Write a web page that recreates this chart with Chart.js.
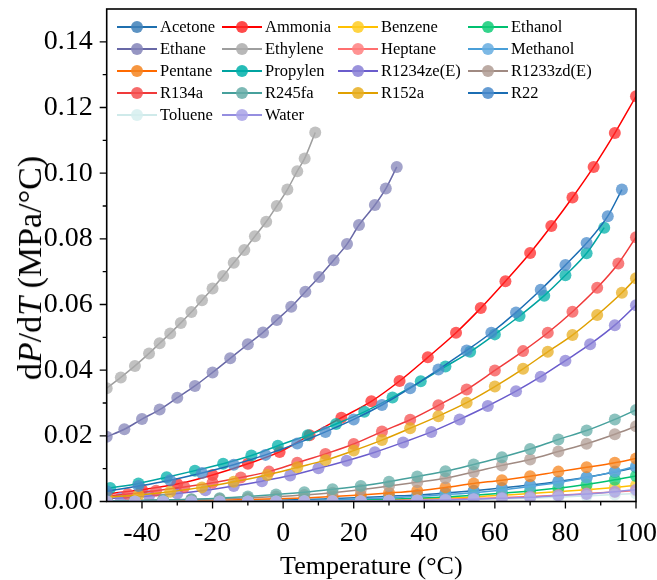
<!DOCTYPE html>
<html>
<head>
<meta charset="utf-8">
<script src="https://cdn.jsdelivr.net/npm/chart.js@4.4.1/dist/chart.umd.min.js"></script>
<style>
  body { margin: 0; background: #fff; }
  #wrap { position: relative; width: 657px; height: 580px; font-family: "Liberation Serif", "Times New Roman", serif; }
  #ytitle { position: absolute; left: 30px; top: 268px; transform: translate(-50%, -50%) rotate(-90deg); white-space: nowrap; font-size: 34px; line-height: 1; color: #000; }
  .lg { position: absolute; height: 20px; display: flex; align-items: center; font-size: 16.5px; color: #000; white-space: nowrap; }
  .lg .sym { position: relative; width: 40px; height: 20px; margin-right: 3px; }
  .lg .ln { position: absolute; left: 0; right: 0; top: 9px; height: 2px; }
  .lg .dot { position: absolute; left: 14px; top: 4px; width: 12px; height: 12px; border-radius: 50%; }
</style>
</head>
<body>
<div id="wrap">
  <canvas id="chart" width="657" height="580"></canvas>
  <div id="ytitle">d<i>P</i>/d<i>T</i> (MPa/°C)</div>
  <div id="legend"></div>
</div>
<script>
// 温度网格（大多数工质共用）
const tGrid = [-50, -42, -34, -26, -18, -10, -2, 6, 14, 22, 30, 38, 46, 54, 62, 70, 78, 86, 94, 100];

const acetone  = [0.0000, 0.0000, 0.0001, 0.0001, 0.0002, 0.0003, 0.0004, 0.0006, 0.0009, 0.0012, 0.0016, 0.0020, 0.0026, 0.0033, 0.0041, 0.0050, 0.0061, 0.0074, 0.0090, 0.0104];
const benzene  = [0.0000, 0.0000, 0.0000, 0.0000, 0.0001, 0.0001, 0.0001, 0.0002, 0.0003, 0.0004, 0.0006, 0.0008, 0.0011, 0.0014, 0.0019, 0.0024, 0.0030, 0.0036, 0.0043, 0.0049];
const ethanol  = [0.0000, 0.0000, 0.0000, 0.0000, 0.0000, 0.0000, 0.0001, 0.0002, 0.0003, 0.0005, 0.0007, 0.0010, 0.0014, 0.0019, 0.0025, 0.0032, 0.0041, 0.0052, 0.0066, 0.0078];
const heptane  = [0.0000, 0.0000, 0.0000, 0.0000, 0.0000, 0.0000, 0.0001, 0.0001, 0.0001, 0.0002, 0.0003, 0.0005, 0.0007, 0.0009, 0.0012, 0.0015, 0.0019, 0.0024, 0.0029, 0.0033];
const methanol = [0.0000, 0.0000, 0.0000, 0.0001, 0.0001, 0.0001, 0.0002, 0.0003, 0.0005, 0.0008, 0.0011, 0.0015, 0.0021, 0.0027, 0.0035, 0.0046, 0.0058, 0.0073, 0.0091, 0.0108];
const pentane  = [0.0001, 0.0001, 0.0002, 0.0003, 0.0004, 0.0006, 0.0008, 0.0011, 0.0015, 0.0020, 0.0026, 0.0033, 0.0043, 0.0055, 0.0065, 0.0077, 0.0091, 0.0104, 0.0118, 0.0131];
const r1233zd  = [0.0002, 0.0003, 0.0004, 0.0006, 0.0008, 0.0011, 0.0015, 0.0020, 0.0027, 0.0036, 0.0047, 0.0059, 0.0071, 0.0090, 0.0110, 0.0128, 0.0152, 0.0176, 0.0205, 0.0229];
const r245fa   = [0.0002, 0.0003, 0.0005, 0.0007, 0.0010, 0.0015, 0.0021, 0.0028, 0.0037, 0.0047, 0.0060, 0.0076, 0.0092, 0.0113, 0.0135, 0.0160, 0.0189, 0.0216, 0.0250, 0.0279];
const toluene  = [0.0000, 0.0000, 0.0000, 0.0000, 0.0000, 0.0000, 0.0000, 0.0001, 0.0001, 0.0001, 0.0002, 0.0003, 0.0004, 0.0006, 0.0008, 0.0010, 0.0013, 0.0017, 0.0021, 0.0024];
const water    = [0.0000, 0.0000, 0.0000, 0.0000, 0.0000, 0.0000, 0.0000, 0.0001, 0.0001, 0.0001, 0.0002, 0.0003, 0.0005, 0.0007, 0.0010, 0.0013, 0.0018, 0.0023, 0.0030, 0.0036];

// 各自温度点的工质
const ammoniaT = [-50, -40, -30, -20, -10, -1, 7.5, 16.5, 25, 33, 41, 49, 56, 63, 70, 76, 82, 88, 94, 100];
const ammonia  = [0.0023, 0.0036, 0.0053, 0.0081, 0.0115, 0.0151, 0.0202, 0.0255, 0.0305, 0.0367, 0.0439, 0.0514, 0.0589, 0.0671, 0.0757, 0.0839, 0.0926, 0.1019, 0.1122, 0.1234];

const ethaneT = [-50, -45, -40, -35, -30, -25, -20, -15, -10, -5.7, -1.8, 2.3, 6.3, 10.2, 14.3, 18.1, 21.5, 26, 29.1, 32.2];
const ethane  = [0.0197, 0.0220, 0.0251, 0.0280, 0.0316, 0.0352, 0.0393, 0.0436, 0.0479, 0.0515, 0.0553, 0.0593, 0.0639, 0.0684, 0.0735, 0.0784, 0.0842, 0.0903, 0.0953, 0.1019];

const ethyleneT = [-50, -46, -42, -38, -35, -32, -29, -26, -23, -20, -17, -14, -11, -8, -4.8, -1.8, 1.2, 4, 6.1, 9.1];
const ethylene  = [0.0345, 0.0378, 0.0413, 0.0451, 0.0482, 0.0512, 0.0544, 0.0577, 0.0613, 0.0649, 0.0687, 0.0727, 0.0766, 0.0808, 0.0852, 0.0900, 0.0950, 0.1006, 0.1045, 0.1124];

const propylenT = [-49, -41, -33, -25, -17, -9, -1.5, 7, 15, 23, 31, 39, 46, 53, 60, 67, 74, 80, 86, 91];
const propylen  = [0.0041, 0.0055, 0.0074, 0.0094, 0.0115, 0.0140, 0.0170, 0.0202, 0.0236, 0.0273, 0.0317, 0.0366, 0.0411, 0.0456, 0.0509, 0.0565, 0.0627, 0.0689, 0.0756, 0.0834];

const r1234zeT = [-50, -46, -38, -30, -22, -14, -6, 2, 10, 18, 26, 34, 42, 50, 58, 66, 73, 80, 87, 94, 100];
const r1234ze  = [0.0009, 0.0011, 0.0017, 0.0024, 0.0034, 0.0047, 0.0062, 0.0079, 0.0101, 0.0124, 0.0150, 0.0180, 0.0212, 0.0250, 0.0291, 0.0336, 0.0380, 0.0429, 0.0479, 0.0537, 0.0598];

const r134aT = [-50, -44, -36, -28, -20, -12, -4, 4, 12, 20, 28, 36, 44, 52, 60, 68, 75, 82, 89, 95, 100];
const r134a  = [0.0017, 0.0023, 0.0033, 0.0044, 0.0057, 0.0073, 0.0091, 0.0118, 0.0145, 0.0175, 0.0213, 0.0249, 0.0293, 0.0341, 0.0399, 0.0458, 0.0514, 0.0578, 0.0651, 0.0725, 0.0805];

const r152aT = [-50, -41, -32, -23, -14, -4.5, 4, 12, 20, 28, 36, 44, 52, 60, 68, 75, 82, 89, 96, 100];
const r152a  = [0.0013, 0.0020, 0.0030, 0.0043, 0.0060, 0.0081, 0.0104, 0.0126, 0.0155, 0.0187, 0.0223, 0.0260, 0.0301, 0.0350, 0.0404, 0.0456, 0.0507, 0.0568, 0.0636, 0.0680];

const r22T = [-50, -41, -32, -23, -14, -5, 4, 12, 20, 28, 36, 44, 52, 59, 66, 73, 80, 86, 92, 96];
const r22  = [0.0031, 0.0047, 0.0065, 0.0087, 0.0112, 0.0142, 0.0177, 0.0212, 0.0250, 0.0294, 0.0345, 0.0402, 0.0460, 0.0514, 0.0576, 0.0645, 0.0720, 0.0787, 0.0869, 0.0950];

// 刻度
const xMajorTicks = [-40, -20, 0, 20, 40, 60, 80, 100];
const xMinorTicks = [-30, -10, 10, 30, 50, 70, 90];
const yMajorTicks = [0, 0.02, 0.04, 0.06, 0.08, 0.10, 0.12, 0.14];
const yMinorTicks = [0.01, 0.03, 0.05, 0.07, 0.09, 0.11, 0.13];

// 工质列表：名称、温度、数值、线色、点色
const series = [
    ['Acetone', tGrid, acetone, '#1f6fae', '#3f80b8'],
    ['Ammonia', ammoniaT, ammonia, '#ff0000', '#ff2a2a'],
    ['Benzene', tGrid, benzene, '#ffc000', '#ffcc22'],
    ['Ethanol', tGrid, ethanol, '#00c070', '#10cc78'],
    ['Ethane', ethaneT, ethane, '#6868a6', '#8484b8'],
    ['Ethylene', ethyleneT, ethylene, '#9e9e9e', '#acacac'],
    ['Heptane', tGrid, heptane, '#ff6f6f', '#ff8080'],
    ['Methanol', tGrid, methanol, '#4a9fd8', '#66ade0'],
    ['Pentane', tGrid, pentane, '#ff6a00', '#f5841e'],
    ['Propylen', propylenT, propylen, '#00a3a0', '#00b0aa'],
    ['R1234ze(E)', r1234zeT, r1234ze, '#6a5ccc', '#8a80d6'],
    ['R1233zd(E)', tGrid, r1233zd, '#a08a82', '#b09c94'],
    ['R134a', r134aT, r134a, '#f03a3a', '#f55050'],
    ['R245fa', tGrid, r245fa, '#46a09c', '#66ada8'],
    ['R152a', r152aT, r152a, '#e0a000', '#e8ae20'],
    ['R22', r22T, r22, '#1b6db3', '#4a8bcb'],
    ['Toluene', tGrid, toluene, '#cfeaea', '#d6eeee'],
    ['Water', tGrid, water, '#958ee0', '#a8a2e6']
];

function hexToRgba(hex, a) {
    const n = parseInt(hex.slice(1), 16);
    return `rgba(${(n >> 16) & 255},${(n >> 8) & 255},${n & 255},${a})`;
}

const datasets = series.map(([name, ts, vs, line, dot], i) => ({
    label: name,
    data: ts.map((t, k) => ({ x: t, y: vs[k] })),
    borderColor: line,
    borderWidth: 1.5,
    backgroundColor: hexToRgba(dot, 0.75),
    pointBackgroundColor: hexToRgba(dot, 0.75),
    pointBorderWidth: 0,
    pointRadius: 6,
    cubicInterpolationMode: 'monotone',
    order: -i
}));

// 边框和外刻度
const frameTicks = {
    id: 'frameTicks',
    afterDatasetsDraw(chart) {
        const { ctx, chartArea: a, scales: { x, y } } = chart;
        ctx.save();
        ctx.strokeStyle = '#000';
        ctx.lineWidth = 1.6;
        ctx.strokeRect(a.left, a.top, a.right - a.left, a.bottom - a.top);
        ctx.lineWidth = 1.3;
        ctx.beginPath();
        xMajorTicks.forEach(v => { const p = x.getPixelForValue(v); ctx.moveTo(p, a.bottom); ctx.lineTo(p, a.bottom + 7); });
        xMinorTicks.forEach(v => { const p = x.getPixelForValue(v); ctx.moveTo(p, a.bottom); ctx.lineTo(p, a.bottom + 4); });
        yMajorTicks.forEach(v => { const p = y.getPixelForValue(v); ctx.moveTo(a.left, p); ctx.lineTo(a.left - 7, p); });
        yMinorTicks.forEach(v => { const p = y.getPixelForValue(v); ctx.moveTo(a.left, p); ctx.lineTo(a.left - 4, p); });
        ctx.stroke();
        ctx.restore();
    }
};

const serif = '"Liberation Serif", "Times New Roman", serif';

new Chart(document.getElementById('chart'), {
    type: 'line',
    data: { datasets },
    options: {
        responsive: false,
        animation: false,
        layout: { padding: { top: 9, right: 21, left: 0, bottom: 0 } },
        plugins: { legend: { display: false }, tooltip: { enabled: false } },
        scales: {
            x: {
                type: 'linear',
                min: -50, max: 100,
                grid: { display: false, drawTicks: false },
                border: { display: false },
                afterBuildTicks: s => { s.ticks = xMajorTicks.map(v => ({ value: v })); },
                afterFit: s => { s.height = 78.5; s.paddingLeft = 0; s.paddingRight = 0; },
                ticks: { color: '#000', font: { family: serif, size: 28 }, padding: 15, maxRotation: 0, callback: v => v },
                title: { display: true, text: 'Temperature (°C)', color: '#000', font: { family: serif, size: 26, lineHeight: 1 }, padding: { top: 0, bottom: 0 } }
            },
            y: {
                type: 'linear',
                min: 0, max: 0.15,
                grid: { display: false, drawTicks: false },
                border: { display: false },
                afterBuildTicks: s => { s.ticks = yMajorTicks.map(v => ({ value: v })); },
                afterFit: s => { s.width = 106.7; s.paddingTop = 0; s.paddingBottom = 0; },
                ticks: { color: '#000', font: { family: serif, size: 28 }, padding: 14, callback: v => v.toFixed(2) }
            }
        }
    },
    plugins: [frameTicks]
});

// 图例（4列）
const legend = document.getElementById('legend');
const colX = [117, 222, 338, 468];
const rowY = [27.3, 49, 71, 92.8, 114.5];
series.forEach(([name, , , line, dot], i) => {
    const item = document.createElement('div');
    item.className = 'lg';
    item.style.left = colX[i % 4] + 'px';
    item.style.top = (rowY[Math.floor(i / 4)] - 10) + 'px';
    item.innerHTML = `<span class="sym"><span class="ln" style="background:${line}"></span>` +
        `<span class="dot" style="background:${hexToRgba(dot, 0.85)}"></span></span>${name}`;
    legend.appendChild(item);
});
</script>
</body>
</html>
